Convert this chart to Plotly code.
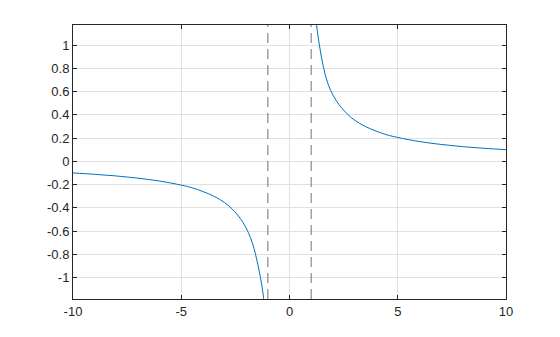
import plotly.graph_objects as go

# Right branch
x_right = [1.22, 1.25, 1.30, 1.38, 1.47, 1.58, 1.72, 1.90, 2.15, 2.40, 2.65, 3.0, 3.5, 4.0, 4.5, 5.0, 6.0, 7.0, 8.0, 9.0, 10.0]
y_right = [1.22, 1.17, 1.10, 1.00, 0.90, 0.80, 0.70, 0.61, 0.525, 0.462, 0.41, 0.355, 0.30, 0.26, 0.228, 0.205, 0.17, 0.145, 0.126, 0.112, 0.100]
# Left branch
x_left = [-10.0, -9.0, -8.0, -7.0, -6.0, -5.0, -4.5, -4.0, -3.5, -3.0, -2.65, -2.40, -2.15, -1.91, -1.72, -1.57, -1.45, -1.34, -1.26, -1.20, -1.16]
y_left = [-0.100, -0.112, -0.126, -0.145, -0.17, -0.205, -0.228, -0.26, -0.30, -0.355, -0.41, -0.462, -0.525, -0.61, -0.70, -0.80, -0.90, -1.00, -1.09, -1.17, -1.25]
# Vertical asymptotes
asymptotes = [-1, 1]

x_ticks = [-10, -5, 0, 5, 10]
x_ticktext = ["-10", "-5", "0", "5", "10"]
y_ticks = [-1, -0.8, -0.6, -0.4, -0.2, 0, 0.2, 0.4, 0.6, 0.8, 1]
y_ticktext = ["-1", "-0.8", "-0.6", "-0.4", "-0.2", "0", "0.2", "0.4", "0.6", "0.8", "1"]

blue = "#0072BD"
fig = go.Figure()
fig.add_trace(go.Scatter(x=x_left, y=y_left, mode="lines", line=dict(color=blue, width=1, shape="spline", smoothing=1.0), showlegend=False))
fig.add_trace(go.Scatter(x=x_right, y=y_right, mode="lines", line=dict(color=blue, width=1, shape="spline", smoothing=1.0), showlegend=False))
for a in asymptotes:
    fig.add_vline(x=a, line=dict(color="#707070", width=1, dash="10px,6px"))

axis_common = dict(
    showline=True, linecolor="#262626", linewidth=1, mirror="ticks",
    ticks="inside", ticklen=4, tickcolor="#262626", tickwidth=1,
    showgrid=True, gridcolor="#e0e0e0", gridwidth=1, zeroline=False,
    tickfont=dict(family="Liberation Sans, Arial, sans-serif", size=13, color="#262626"),
)
fig.update_xaxes(range=[-10, 10], tickvals=x_ticks, ticktext=x_ticktext, **axis_common)
fig.update_yaxes(range=[-1.185, 1.173], tickvals=y_ticks, ticktext=y_ticktext, **axis_common)
fig.update_layout(
    width=560, height=337,
    margin=dict(l=73, r=54, t=25, b=38),
    paper_bgcolor="white", plot_bgcolor="white",
)
fig.write_html("out.html")
